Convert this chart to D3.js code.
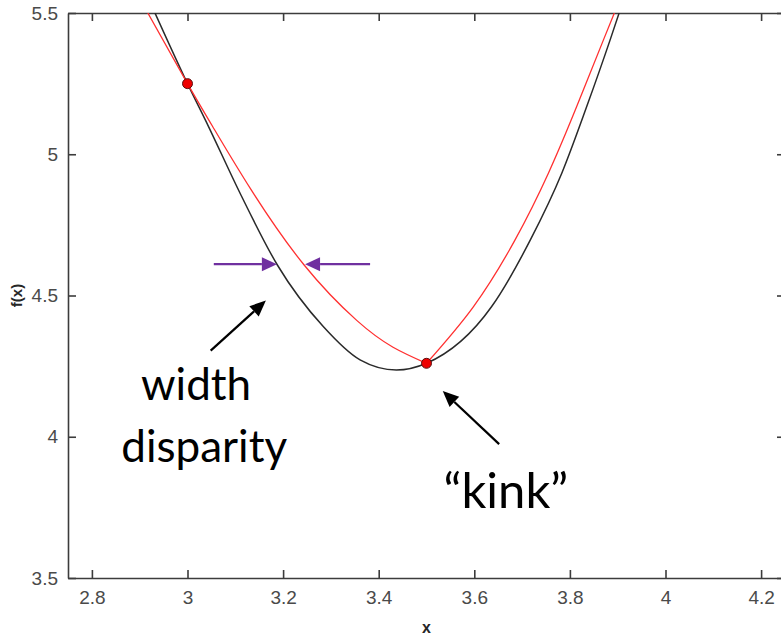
<!DOCTYPE html>
<html>
<head>
<meta charset="utf-8">
<script src="https://cdn.jsdelivr.net/npm/d3@7"></script>
<style>
  body { margin: 0; background: #fff; }
  svg { display: block; }
  .tick text { font-family: "Liberation Sans", Arial, sans-serif; font-size: 19px; fill: #4a4a4a; }
  .note { font-family: Lato, "Open Sans", sans-serif; fill: #000; }
</style>
</head>
<body>
<div id="chart"></div>
<script>
// values
var xTicks = [2.8, 3, 3.2, 3.4, 3.6, 3.8, 4, 4.2];
var yTicks = [3.5, 4, 4.5, 5, 5.5];

// f(x), the black curve
var fX = [2.932, 3.000, 3.044, 3.110, 3.188, 3.284, 3.361, 3.437, 3.500, 3.636, 3.717, 3.783, 3.835, 3.884, 3.903];
var fY = [5.500, 5.250, 5.098, 4.862, 4.608, 4.390, 4.272, 4.236, 4.260, 4.460, 4.696, 4.933, 5.168, 5.404, 5.500];

// red approximation, two pieces that meet at the kink
var redLeftX = [2.917, 3.000, 3.052, 3.134, 3.244, 3.354, 3.430, 3.500];
var redLeftY = [5.500, 5.250, 5.100, 4.872, 4.608, 4.412, 4.317, 4.260];
var redRightX = [3.500, 3.598, 3.685, 3.755, 3.814, 3.870, 3.893];
var redRightY = [4.260, 4.460, 4.696, 4.933, 5.168, 5.404, 5.500];

// red dots
var dotX = [3.0, 3.5];
var dotY = [5.25, 4.26];

var width = 781, height = 636;
var margin = { left: 68, top: 13 };
var plotW = 717, plotH = 565;

var svg = d3.select("#chart").append("svg")
  .attr("width", width)
  .attr("height", height);

var x = d3.scaleLinear().domain([2.75, 4.25]).range([margin.left, margin.left + plotW]);
var y = d3.scaleLinear().domain([3.5, 5.5]).range([margin.top + plotH, margin.top]);

svg.append("clipPath").attr("id", "plot")
  .append("rect")
  .attr("x", margin.left).attr("y", margin.top)
  .attr("width", plotW).attr("height", plotH);

// box axes, MATLAB style with inward ticks
function styleAxis(g) {
  g.select(".domain").attr("stroke", "#3c3c3c").attr("stroke-width", 1.6);
  g.selectAll(".tick line").attr("stroke", "#3c3c3c").attr("stroke-width", 1.6);
}

svg.append("g")
  .attr("transform", "translate(0," + y(3.5) + ")")
  .call(d3.axisBottom(x).tickValues(xTicks).tickSizeInner(-8).tickSizeOuter(0).tickPadding(13)
    .tickFormat(d3.format("~g")))
  .call(styleAxis);

svg.append("g")
  .attr("transform", "translate(0," + y(5.5) + ")")
  .call(d3.axisTop(x).tickValues(xTicks).tickSizeInner(-8).tickSizeOuter(0).tickFormat(""))
  .call(styleAxis);

svg.append("g")
  .attr("transform", "translate(" + x(2.75) + ",0)")
  .call(d3.axisLeft(y).tickValues(yTicks).tickSizeInner(-8).tickSizeOuter(0).tickPadding(10)
    .tickFormat(d3.format("~g")))
  .call(styleAxis);

svg.append("g")
  .attr("transform", "translate(" + x(4.25) + ",0)")
  .call(d3.axisRight(y).tickValues(yTicks).tickSizeInner(-8).tickSizeOuter(0).tickFormat(""))
  .call(styleAxis);

svg.selectAll(".tick text").attr("fill", null);

// axis labels
svg.append("text")
  .attr("x", x(3.5)).attr("y", 633)
  .attr("text-anchor", "middle")
  .style("font-family", "Liberation Sans, Arial, sans-serif")
  .style("font-weight", "bold").style("font-size", "16px").attr("fill", "#262626")
  .text("x");

svg.append("text")
  .attr("transform", "translate(22," + y(4.5) + ") rotate(-90)")
  .attr("text-anchor", "middle")
  .style("font-family", "Liberation Sans, Arial, sans-serif")
  .style("font-weight", "bold").style("font-size", "15px").attr("fill", "#262626")
  .text("f(x)");

// curves
var blackLine = d3.line()
  .x(function (d) { return x(d[0]); })
  .y(function (d) { return y(d[1]); })
  .curve(d3.curveMonotoneX);

var redLine = d3.line()
  .x(function (d) { return x(d[0]); })
  .y(function (d) { return y(d[1]); })
  .curve(d3.curveNatural);

var plot = svg.append("g").attr("clip-path", "url(#plot)");

plot.append("path")
  .datum(d3.zip(fX, fY))
  .attr("d", blackLine)
  .attr("fill", "none").attr("stroke", "#2a2a2a").attr("stroke-width", 1.5);

[d3.zip(redLeftX, redLeftY), d3.zip(redRightX, redRightY)].forEach(function (pts) {
  plot.append("path")
    .datum(pts)
    .attr("d", redLine)
    .attr("fill", "none").attr("stroke", "#ff3030").attr("stroke-width", 1.3);
});

plot.selectAll("circle")
  .data(d3.zip(dotX, dotY))
  .enter().append("circle")
  .attr("cx", function (d) { return x(d[0]); })
  .attr("cy", function (d) { return y(d[1]); })
  .attr("r", 5)
  .attr("fill", "#ee0000")
  .attr("stroke", "#5a1010").attr("stroke-width", 1);

// annotation arrows, given in data units
function arrow(x0, y0, x1, y1, color, w, headLen, headW) {
  var px0 = x(x0), py0 = y(y0), px1 = x(x1), py1 = y(y1);
  var a = Math.atan2(py1 - py0, px1 - px0);
  var bx = px1 - headLen * Math.cos(a), by = py1 - headLen * Math.sin(a);
  svg.append("line")
    .attr("x1", px0).attr("y1", py0).attr("x2", bx).attr("y2", by)
    .attr("stroke", color).attr("stroke-width", w);
  var nx = -Math.sin(a) * headW / 2, ny = Math.cos(a) * headW / 2;
  svg.append("path")
    .attr("d", "M" + px1 + "," + py1 + "L" + (bx + nx) + "," + (by + ny) + "L" + (bx - nx) + "," + (by - ny) + "Z")
    .attr("fill", color);
}

arrow(3.055, 4.611, 3.187, 4.611, "#7030a0", 2.2, 15, 14);
arrow(3.382, 4.611, 3.246, 4.611, "#7030a0", 2.2, 15, 14);
arrow(3.0485, 4.305, 3.164, 4.482, "#000", 2.2, 16, 14);
arrow(3.652, 3.974, 3.534, 4.162, "#000", 2.2, 16, 14);

// notes
svg.append("text").attr("class", "note")
  .attr("x", x(3.018)).attr("y", y(4.130))
  .attr("text-anchor", "middle").style("font-size", "44px")
  .text("width");
svg.append("text").attr("class", "note")
  .attr("x", x(3.035)).attr("y", y(3.911))
  .attr("text-anchor", "middle").style("font-size", "44px")
  .text("disparity");
svg.append("text").attr("class", "note")
  .attr("x", x(3.666)).attr("y", y(3.748))
  .attr("text-anchor", "middle").style("font-size", "49px")
  .text("\u201ckink\u201d");
</script>
</body>
</html>
